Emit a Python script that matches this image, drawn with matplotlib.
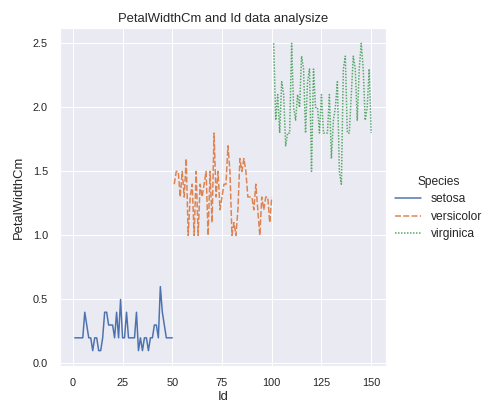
import matplotlib
matplotlib.use("Agg")
import numpy as np
import pandas as pd
import seaborn as sns
from matplotlib import pyplot as plt

# iris PetalWidthCm by Id
setosa = [0.2, 0.2, 0.2, 0.2, 0.2, 0.4, 0.3, 0.2, 0.2, 0.1,
          0.2, 0.2, 0.1, 0.1, 0.2, 0.4, 0.4, 0.3, 0.3, 0.3,
          0.2, 0.4, 0.2, 0.5, 0.2, 0.2, 0.4, 0.2, 0.2, 0.2,
          0.2, 0.4, 0.1, 0.2, 0.1, 0.2, 0.2, 0.1, 0.2, 0.2,
          0.3, 0.3, 0.2, 0.6, 0.4, 0.3, 0.2, 0.2, 0.2, 0.2]
versicolor = [1.4, 1.5, 1.5, 1.3, 1.5, 1.3, 1.6, 1.0, 1.3, 1.4,
              1.0, 1.5, 1.0, 1.4, 1.3, 1.4, 1.5, 1.0, 1.5, 1.1,
              1.8, 1.3, 1.5, 1.2, 1.3, 1.4, 1.4, 1.7, 1.5, 1.0,
              1.1, 1.0, 1.2, 1.6, 1.5, 1.6, 1.5, 1.3, 1.3, 1.3,
              1.2, 1.4, 1.2, 1.0, 1.3, 1.2, 1.3, 1.3, 1.1, 1.3]
virginica = [2.5, 1.9, 2.1, 1.8, 2.2, 2.1, 1.7, 1.8, 1.8, 2.5,
             2.0, 1.9, 2.1, 2.0, 2.4, 2.3, 1.8, 2.2, 2.3, 1.5,
             2.3, 2.0, 2.0, 1.8, 2.1, 1.8, 1.8, 1.8, 2.1, 1.6,
             1.9, 2.0, 2.2, 1.5, 1.4, 2.3, 2.4, 1.8, 1.8, 2.1,
             2.4, 2.3, 1.9, 2.3, 2.5, 2.3, 1.9, 2.0, 2.3, 1.8]
species = ["setosa", "versicolor", "virginica"]

df = pd.DataFrame({
    "Id": np.arange(1, 151),
    "PetalWidthCm": setosa + versicolor + virginica,
    "Species": [s for s in species for _ in range(50)],
})

sns.set_theme(style="darkgrid")
plt.rcParams["font.family"] = ["Liberation Sans", "DejaVu Sans"]

fig = plt.figure(figsize=(501 / 72, 407 / 72), dpi=72)
ax = fig.add_axes([60 / 501, 1 - 366 / 407, 326 / 501, 338 / 407])

colors = ["#4C72B0", "#DD8452", "#55A868"]
dashes = ["-", (0, (4, 1.5)), (0, (1, 1))]
for s, c, d in zip(species, colors, dashes):
    sub = df[df["Species"] == s]
    ax.plot(sub["Id"], sub["PetalWidthCm"], color=c, linestyle=d, lw=1.5, label=s)

ax.set_xticks([0, 25, 50, 75, 100, 125, 150])
ax.set_yticks([0.0, 0.5, 1.0, 1.5, 2.0, 2.5])
ax.tick_params(labelsize=11, colors="#262626", pad=6)
ax.set_xlabel("Id", fontsize=13, labelpad=3)
ax.set_ylabel("PetalWidthCm", fontsize=13, labelpad=8)
ax.set_title("PetalWidthCm and Id data analysize", fontsize=13, pad=6)

handles, labels = ax.get_legend_handles_labels()
leg = fig.legend(handles, labels, title="Species", loc="center left",
                 bbox_to_anchor=(384 / 501, 1 - 208 / 407), frameon=False,
                 fontsize=12, title_fontsize=12, handlelength=2.2,
                 handletextpad=0.8, labelspacing=0.45)

fig.savefig("out.png", dpi=72)
